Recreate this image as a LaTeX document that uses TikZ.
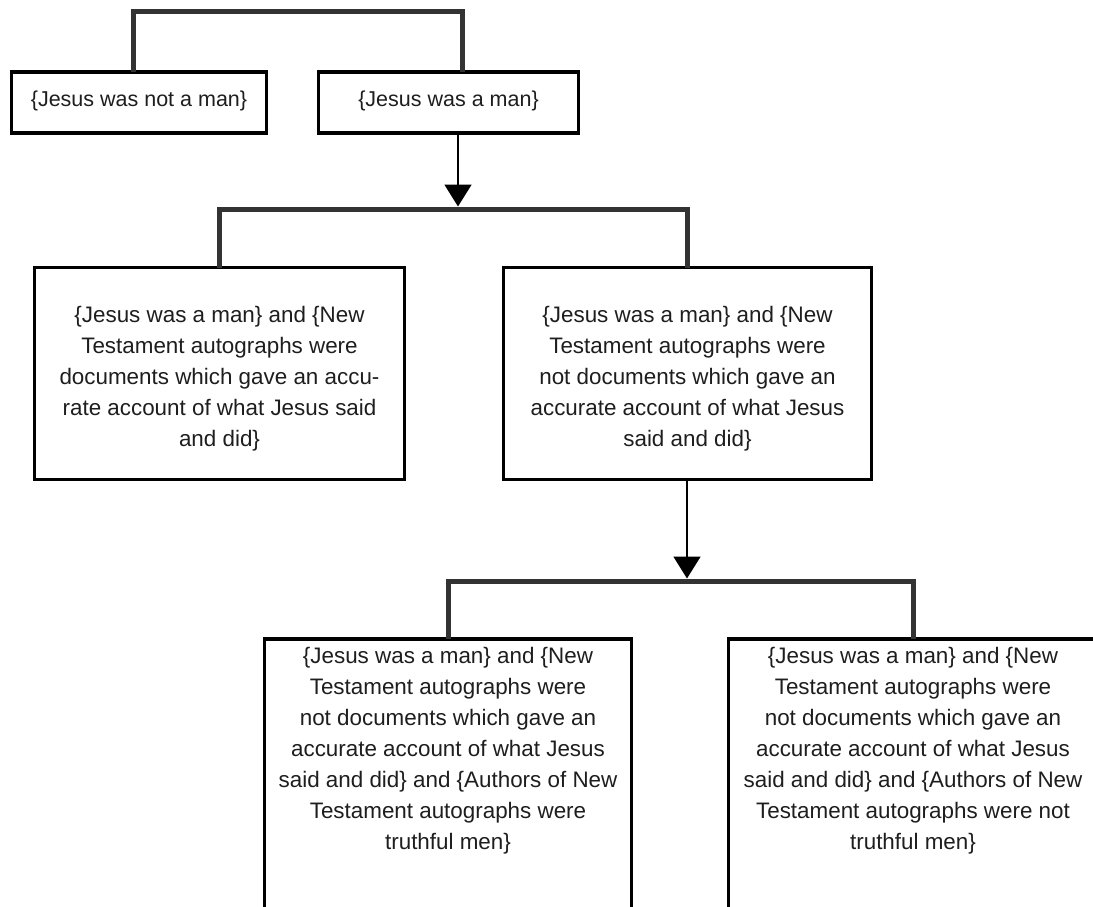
\documentclass[tikz,border=0pt]{standalone}
\usepackage{fontspec}
\setmainfont{Liberation Sans}
\usetikzlibrary{arrows.meta}
\definecolor{brk}{HTML}{333333}
\definecolor{ink}{HTML}{1E1E1E}
\begin{document}
\begin{tikzpicture}[x=1pt,y=-1pt,
  box/.style={draw=black, line width=3.5pt, rectangle, inner sep=0pt, outer sep=0pt},
  txt/.style={align=center, text=ink, font=\fontsize{21.5}{29}\selectfont, inner sep=0pt},
  mtxt/.style={align=center, text=ink, font=\fontsize{22.4}{31}\selectfont, inner sep=0pt},
  bracket/.style={draw=brk, line width=5pt, line join=miter},
  arr/.style={draw=black, line width=1.8pt, -{Triangle[width=27pt,length=22pt]}}
]
\useasboundingbox (0,0) rectangle (1093,907);
\fill[white] (0,0) rectangle (1093,907);
\clip (0,0) rectangle (1093,907);

% boxes
\node[box, minimum width=255pt, minimum height=61pt] (A) at (139,102.5) {};
\node[box, minimum width=260pt, minimum height=61pt] (B) at (448.5,102.5) {};
\node[box, minimum width=370pt, minimum height=212pt] (C) at (219.5,373.5) {};
\node[box, minimum width=368pt, minimum height=212pt] (D) at (687.5,373.5) {};
\node[box, minimum width=367pt, minimum height=300pt] (E) at (448,789) {};
\node[box, minimum width=369pt, minimum height=300pt] (F) at (913,789) {};

% texts
\node[txt] (At) at (139,101) {\{Jesus was not a man\}};
\node[txt] (Bt) at (448.5,101) {\{Jesus was a man\}};
\node[mtxt] (Ct) at (219.5,379) {\{Jesus was a man\} and \{New\\Testament autographs were\\documents which gave an accu-\\rate account of what Jesus said\\and did\}};
\node[mtxt] (Dt) at (687.5,379) {\{Jesus was a man\} and \{New\\Testament autographs were\\not documents which gave an\\accurate account of what Jesus\\said and did\}};
\node[mtxt] (Et) at (448,751) {\{Jesus was a man\} and \{New\\Testament autographs were\\not documents which gave an\\accurate account of what Jesus\\said and did\} and \{Authors of New\\Testament autographs were\\truthful men\}};
\node[mtxt] (Ft) at (913,751) {\{Jesus was a man\} and \{New\\Testament autographs were\\not documents which gave an\\accurate account of what Jesus\\said and did\} and \{Authors of New\\Testament autographs were not\\truthful men\}};

% bracket joins
\coordinate (t1) at (300,12);
\coordinate (b2) at (458,209);
\coordinate (b3) at (687,581);

% brackets
\draw[bracket] ([xshift=-6pt]A.north) |- (t1) -| ([xshift=13.5pt]B.north);
\draw[bracket] (C.north) |- (b2) -| (D.north);
\draw[bracket] (E.north) |- (b3) -| (F.north);

% arrows
\draw[arr] ([xshift=9.5pt]B.south) -- ([yshift=2.5pt]b2);
\draw[arr] ([xshift=-0.5pt]D.south) -- ([yshift=2.5pt]b3);
\end{tikzpicture}
\end{document}
